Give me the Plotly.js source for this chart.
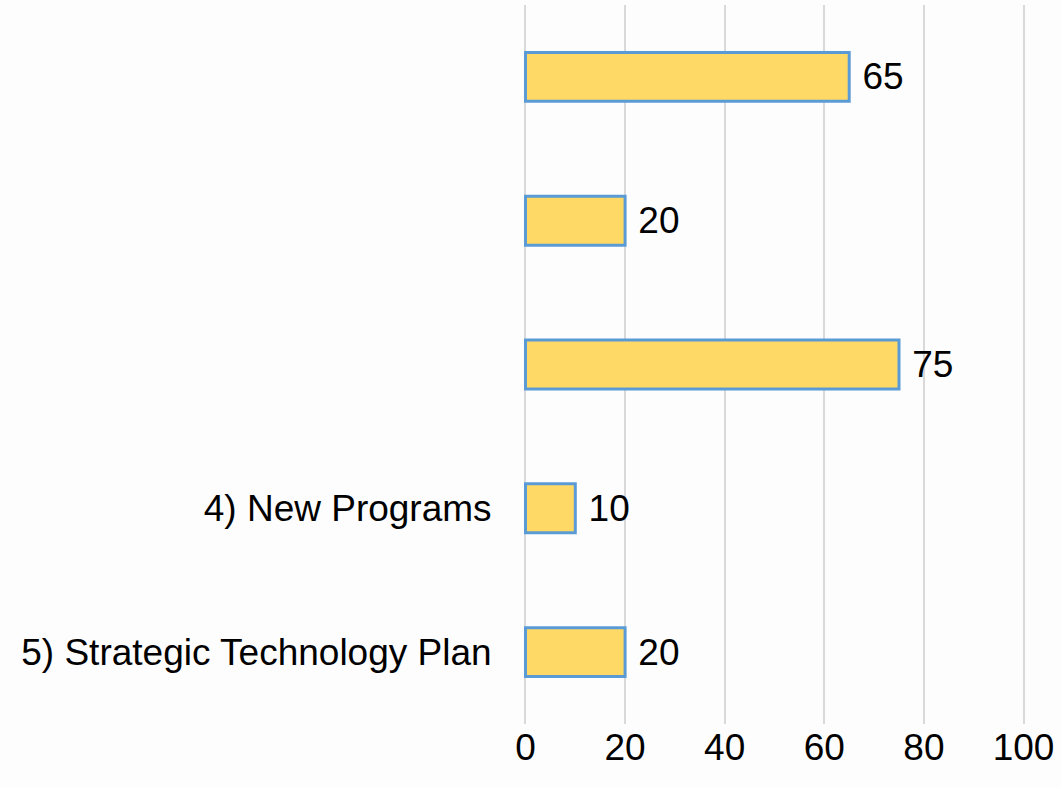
<!DOCTYPE html>
<html>
<head>
<meta charset="utf-8">
<script src="https://cdn.plot.ly/plotly-3.0.1.min.js"></script>
<style>html,body{margin:0;padding:0;background:#fdfdfd;}#chart{width:1061px;height:788px;}</style>
</head>
<body>
<div id="chart"></div>
<script>
const categories = ["1)", "2)", "3)", "4) New Programs", "5) Strategic Technology Plan"];
const tickLabels = ["", "", "", "4) New Programs", "5) Strategic Technology Plan"];
const values = [65, 20, 75, 10, 20];
const xTicks = [0, 20, 40, 60, 80, 100];

const trace = {
  type: "bar",
  orientation: "h",
  y: categories,
  x: values,
  width: 0.34,
  marker: { color: "#FFD966", line: { color: "#5B9BD5", width: 3 } },
  text: values.map(v => "\u00a0" + v),
  textposition: "outside",
  textfont: { family: "Liberation Sans, Arial, sans-serif", size: 37, color: "#000000" },
  cliponaxis: false,
  hoverinfo: "x+y"
};

const layout = {
  width: 1061,
  height: 788,
  margin: { l: 523, r: 35, t: 5, b: 64 },
  paper_bgcolor: "#fdfdfd",
  plot_bgcolor: "#fdfdfd",
  showlegend: false,
  font: { family: "Liberation Sans, Arial, sans-serif", size: 37, color: "#000000" },
  xaxis: {
    range: [-0.5, 100.5],
    tickvals: xTicks,
    ticktext: xTicks.map(String),
    showgrid: true,
    gridcolor: "#D9D9D9",
    gridwidth: 2,
    zeroline: false,
    showline: false,
    ticks: "",
    ticklabelstandoff: -2,
    tickfont: { size: 37, color: "#000000" }
  },
  yaxis: {
    type: "category",
    autorange: "reversed",
    tickvals: categories,
    ticktext: tickLabels,
    showgrid: false,
    zeroline: false,
    showline: false,
    ticks: "outside",
    ticklen: 23,
    tickcolor: "rgba(0,0,0,0)",
    tickfont: { size: 37, color: "#000000" }
  }
};

Plotly.newPlot("chart", [trace], layout, { displayModeBar: false, staticPlot: true });
</script>
</body>
</html>
